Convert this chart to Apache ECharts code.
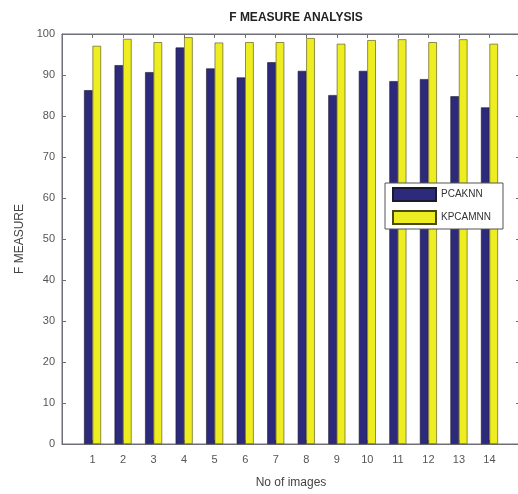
<!DOCTYPE html>
<html>
<head>
<meta charset="utf-8">
<script src="https://cdn.jsdelivr.net/npm/echarts@6/dist/echarts.min.js"></script>
<style>html,body{margin:0;padding:0;background:#fff;}#c{width:518px;height:494px;}</style>
</head>
<body>
<div id="c"></div>
<script>
const categories = [1,2,3,4,5,6,7,8,9,10,11,12,13,14];
const pcaknn = [86.3,92.4,90.7,96.7,91.6,89.4,93.1,91.0,85.1,91.0,88.5,89.0,84.8,82.1];
const kpcamnn = [97.1,98.8,98.0,99.2,97.9,98.0,98.0,99.0,97.6,98.5,98.7,98.0,98.7,97.6];
const yTicks = [0,10,20,30,40,50,60,70,80,90,100];

const chart = echarts.init(document.getElementById('c'), null, {renderer:'canvas'});
const font = 'Liberation Sans, Arial, sans-serif';
const axisColor = '#6e6e78';
const lbl = {color:'#555', fontSize:11, fontFamily:font};
const hideEnds = v => (v >= 1 && v <= categories.length) ? String(v) : '';
const tick = {show:true, inside:true, length:4, lineStyle:{color:axisColor, width:1}};

chart.setOption({
  animation:false,
  backgroundColor:'#fff',
  title:{text:'F MEASURE ANALYSIS', left:291, top:7, textAlign:'center',
    textStyle:{fontSize:12, fontWeight:'bold', color:'#222', fontFamily:font}},
  legend:{orient:'vertical', left:385, top:183, itemWidth:43, itemHeight:13, itemGap:8,
    padding:[4,12,4,7], backgroundColor:'#fff', borderColor:'#555', borderWidth:1, borderRadius:0,
    icon:'rect', textStyle:{fontSize:10, color:'#333', fontFamily:font},
    data:['PCAKNN','KPCAMNN']},
  grid:{left:62, top:34, width:458, height:410, outerBoundsMode:'none', containLabel:false,
    show:true, borderColor:axisColor, borderWidth:1, backgroundColor:'#fff'},
  xAxis:[{type:'value', min:0, max:categories.length+1, interval:1, position:'bottom', gridIndex:0,
    name:'No of images', nameLocation:'middle', nameGap:33,
    nameTextStyle:{fontSize:12, color:'#444', fontFamily:font},
    axisLine:{show:true, onZero:false, lineStyle:{color:axisColor, width:1}},
    axisTick:tick,
    axisLabel:{...lbl, margin:10, formatter:hideEnds},
    splitLine:{show:false}},
   {type:'value', min:0, max:categories.length+1, interval:1, position:'top', gridIndex:0, show:true,
    axisLine:{show:true, onZero:false, lineStyle:{color:axisColor, width:1}},
    axisTick:tick,
    axisLabel:{show:false}, splitLine:{show:false}}],
  yAxis:[{type:'value', min:0, max:100, interval:10, position:'left', gridIndex:0,
    name:'F MEASURE', nameLocation:'middle', nameGap:35,
    nameTextStyle:{fontSize:12, color:'#444', fontFamily:font},
    axisLine:{show:true, onZero:false, lineStyle:{color:axisColor, width:1}},
    axisTick:tick,
    axisLabel:{...lbl, margin:7, formatter:v => yTicks.includes(v) ? String(v) : ''},
    splitLine:{show:false}},
   {type:'value', min:0, max:100, interval:10, position:'right', gridIndex:0, show:true,
    axisLine:{show:true, onZero:false, lineStyle:{color:axisColor, width:1}},
    axisTick:tick,
    axisLabel:{show:false}, splitLine:{show:false}}],
  series:[
    {name:'PCAKNN', type:'bar', xAxisIndex:0, yAxisIndex:0, barWidth:8.5, barGap:'0%',
     itemStyle:{color:'#2d2a7c', borderColor:'#1a1a2a', borderWidth:0.6},
     data:categories.map((c,i)=>[c, pcaknn[i]])},
    {name:'KPCAMNN', type:'bar', xAxisIndex:0, yAxisIndex:0, barWidth:8.5, barGap:'0%',
     itemStyle:{color:'#eded22', borderColor:'#4a4a10', borderWidth:0.6},
     data:categories.map((c,i)=>[c, kpcamnn[i]])}
  ]
});
</script>
</body>
</html>
